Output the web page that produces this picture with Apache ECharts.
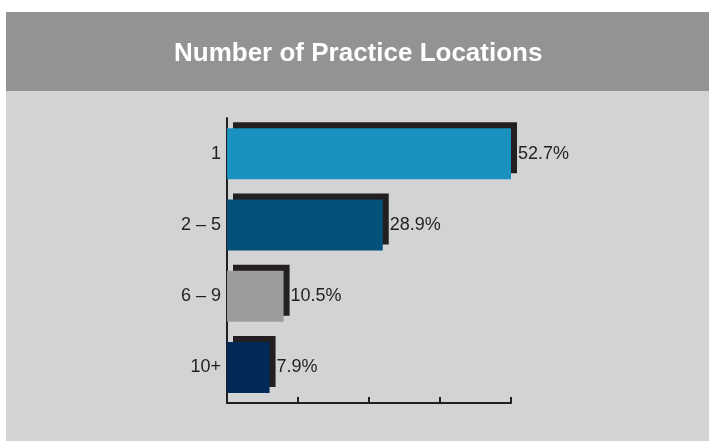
<!DOCTYPE html>
<html>
<head>
<meta charset="utf-8">
<script src="https://cdn.jsdelivr.net/npm/echarts@6/dist/echarts.min.js"></script>
<style>
  html, body { margin: 0; padding: 0; background: #fff; }
  #chart { width: 709px; height: 441px; }
</style>
</head>
<body>
<div id="chart"></div>
<script>
var myChart = echarts.init(document.getElementById('chart'));

// categories and shares (%)
var categories = ['1', '2 \u2013 5', '6 \u2013 9', '10+'];
var values = [52.7, 28.9, 10.5, 7.9];
var barColors = ['#1b91bf', '#03507b', '#9c9c9d', '#022a59'];

var axisMax = 52.7;   // longest bar reaches the end of the axis

var barData = values.map(function (v, i) {
    return { value: v, itemStyle: { color: barColors[i] } };
});

var option = {
    backgroundColor: '#ffffff',
    animation: false,
    graphic: [
        { type: 'rect', z: -10, shape: { x: 6, y: 12, width: 703, height: 79 }, style: { fill: '#929395' } },
        { type: 'rect', z: -10, shape: { x: 6, y: 91, width: 703, height: 350 }, style: { fill: '#d2d3d5' } }
    ],
    title: {
        text: 'Number of Practice Locations',
        left: 169,   // centred on the grey panel, not the page
        top: 36,
        textStyle: {
            color: '#ffffff',
            fontFamily: 'Liberation Sans, Arial, sans-serif',
            fontWeight: 'bold',
            fontSize: 26
        }
    },
    grid: { left: 227, right: 198, top: 118, bottom: 38 },
    xAxis: {
        type: 'value',
        min: 0,
        max: axisMax,
        interval: axisMax / 4,
        axisLine: { show: true, lineStyle: { color: '#231f20', width: 2 } },
        axisTick: { show: true, inside: true, length: 6, lineStyle: { color: '#231f20', width: 2 } },
        axisLabel: { show: false },
        splitLine: { show: false }
    },
    yAxis: {
        type: 'category',
        inverse: true,
        data: categories,
        axisLine: { show: true, lineStyle: { color: '#231f20', width: 2 } },
        axisTick: { show: false },
        axisLabel: {
            margin: 6,
            color: '#231f20',
            fontFamily: 'Liberation Sans, Arial, sans-serif',
            fontSize: 18
        }
    },
    series: [{
        type: 'bar',
        data: barData,
        barWidth: 51,
        itemStyle: {
            // hard drop shadow up and to the right, no blur
            shadowColor: '#231f20',
            shadowBlur: 0,
            shadowOffsetX: 6,
            shadowOffsetY: -6
        },
        label: {
            show: true,
            position: 'right',
            distance: 7,
            formatter: '{c}%',
            color: '#231f20',
            fontFamily: 'Liberation Sans, Arial, sans-serif',
            fontSize: 18
        }
    }]
};

myChart.setOption(option);
</script>
</body>
</html>
